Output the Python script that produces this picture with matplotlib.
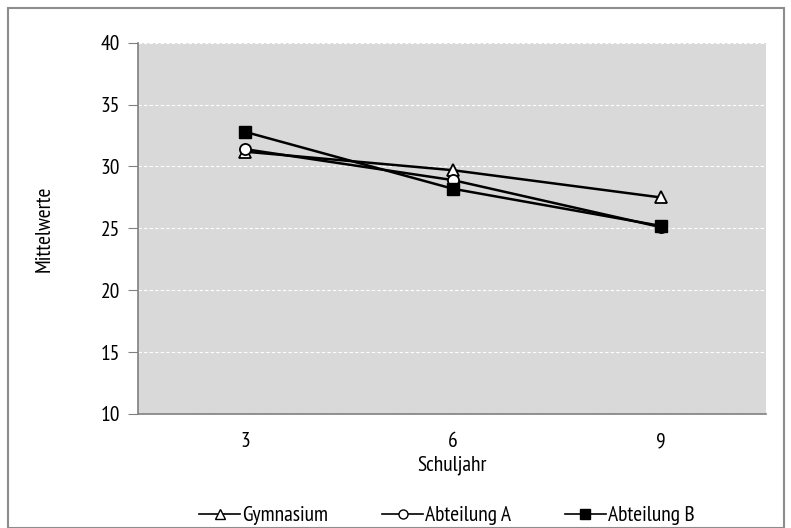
from matplotlib import pyplot as plt
from matplotlib.patches import Rectangle
from matplotlib.lines import Line2D
import numpy as np

plt.rcParams['font.family'] = ['PT Sans Narrow', 'DejaVu Sans']

schuljahr = ['3', '6', '9']
gymnasium = [31.2, 29.7, 27.5]
abteilung_a = [31.4, 28.9, 25.1]
abteilung_b = [32.8, 28.2, 25.2]

fig = plt.figure(figsize=(7.91, 5.28), dpi=100)
ax = fig.add_axes([0.1745, 0.216, 0.7935, 0.703])
ax.set_facecolor('#d9d9d9')

x = np.arange(len(schuljahr))
ax.plot(x, gymnasium, color='black', lw=1.8, marker='^', ms=8,
        mfc='white', mec='black', mew=1.3, label='Gymnasium', zorder=3)
ax.plot(x, abteilung_a, color='black', lw=1.8, marker='o', ms=8,
        mfc='white', mec='black', mew=1.3, label='Abteilung A', zorder=3)
ax.plot(x, abteilung_b, color='black', lw=1.8, marker='s', ms=8,
        mfc='black', mec='black', label='Abteilung B', zorder=3)

ax.set_xlim(-0.515, 2.505)
ax.set_ylim(10, 40)
ax.set_yticks(range(10, 41, 5))
ax.set_xticks(x)
ax.set_xticklabels(schuljahr)
ax.yaxis.grid(True, color='white', ls=(0, (3, 2)), lw=0.8)
ax.set_axisbelow(True)

for s in ['top', 'right']:
    ax.spines[s].set_visible(False)
for s in ['left', 'bottom']:
    ax.spines[s].set_color('#808080')
    ax.spines[s].set_linewidth(1.2)
ax.tick_params(axis='y', length=7, color='#808080', labelsize=15.5, pad=6)
ax.tick_params(axis='x', length=0, labelsize=15.5, pad=13)

ax.set_xlabel('Schuljahr', fontsize=15.5, labelpad=3)
ax.set_ylabel('Mittelwerte', fontsize=15.5, labelpad=34)

handles = [
    Line2D([], [], color='black', lw=1.2, marker='^', ms=6.5, mfc='white', mec='black'),
    Line2D([], [], color='black', lw=1.2, marker='o', ms=6.5, mfc='white', mec='black'),
    Line2D([], [], color='black', lw=1.2, marker='s', ms=6.5, mfc='black', mec='black'),
]
fig.legend(handles, ['Gymnasium', 'Abteilung A', 'Abteilung B'],
           loc='center', bbox_to_anchor=(0.565, 0.023), ncol=3, frameon=False,
           fontsize=15.5, handlelength=1.9, handletextpad=0.1, columnspacing=2.5)

fig.patches.append(Rectangle((8 / 791, 0), (784 - 8) / 791, 1 - 8 / 528,
                             transform=fig.transFigure, fill=False,
                             edgecolor='#8c8c8c', lw=1.5))

fig.savefig('out.png', dpi=100)
